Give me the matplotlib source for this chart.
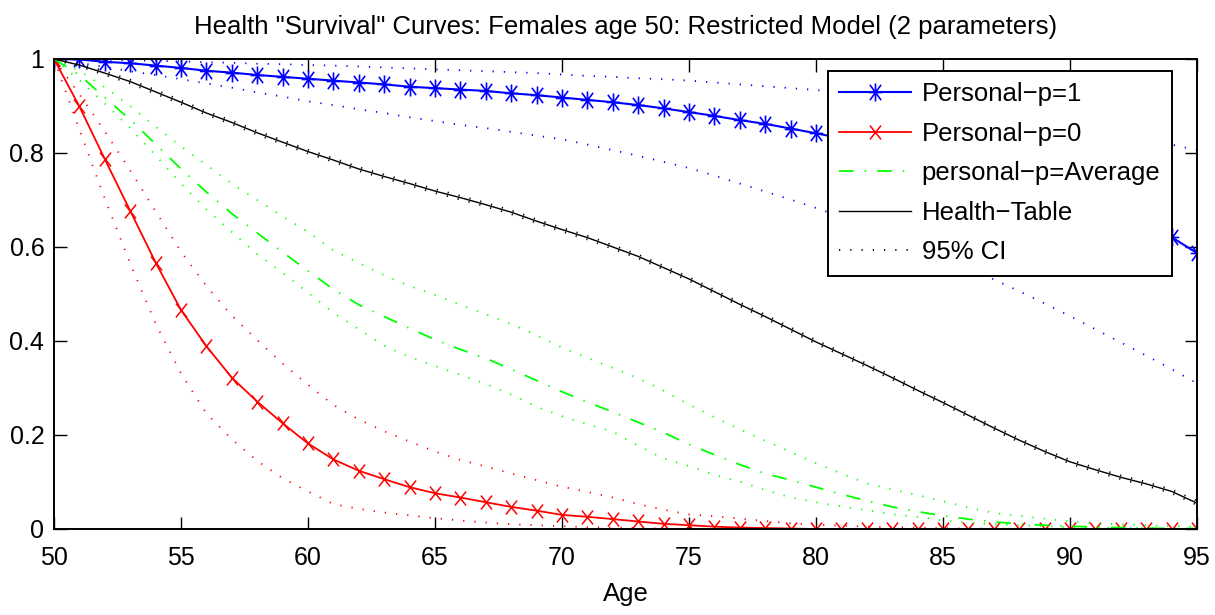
import matplotlib
matplotlib.use("Agg")
import matplotlib.pyplot as plt
from matplotlib.path import Path
from matplotlib.lines import Line2D

# ages 50..95
ages = list(range(50, 96))

p1 = [1.0, 0.999, 0.994, 0.991, 0.986, 0.981, 0.975, 0.971, 0.966, 0.962,
      0.958, 0.954, 0.950, 0.946, 0.941, 0.938, 0.935, 0.932, 0.927, 0.923,
      0.918, 0.913, 0.908, 0.902, 0.895, 0.887, 0.879, 0.870, 0.862, 0.852,
      0.842, 0.831, 0.819, 0.806, 0.793, 0.779, 0.764, 0.748, 0.731, 0.714,
      0.696, 0.678, 0.659, 0.640, 0.621, 0.587]
p1_hi = [1.0, 0.999, 0.998, 0.997, 0.996, 0.995, 0.993, 0.992, 0.990, 0.989,
         0.987, 0.986, 0.984, 0.982, 0.980, 0.978, 0.976, 0.974, 0.972, 0.970,
         0.967, 0.964, 0.962, 0.959, 0.957, 0.954, 0.950, 0.946, 0.942, 0.938,
         0.934, 0.928, 0.922, 0.916, 0.910, 0.903, 0.895, 0.887, 0.879, 0.870,
         0.861, 0.851, 0.841, 0.830, 0.818, 0.806]
p1_lo = [1.0, 0.992, 0.983, 0.974, 0.966, 0.957, 0.948, 0.939, 0.929, 0.920,
         0.910, 0.902, 0.893, 0.885, 0.876, 0.868, 0.860, 0.853, 0.845, 0.837,
         0.829, 0.818, 0.806, 0.794, 0.781, 0.768, 0.752, 0.735, 0.718, 0.701,
         0.683, 0.664, 0.643, 0.622, 0.600, 0.578, 0.555, 0.531, 0.506, 0.480,
         0.453, 0.425, 0.397, 0.369, 0.340, 0.310]

p0 = [1.0, 0.899, 0.787, 0.677, 0.567, 0.466, 0.389, 0.322, 0.271, 0.225,
      0.182, 0.148, 0.124, 0.106, 0.089, 0.076, 0.067, 0.057, 0.047, 0.039,
      0.030, 0.026, 0.021, 0.016, 0.011, 0.008, 0.005, 0.003, 0.002, 0.001,
      0.0, 0.0, 0.0, 0.0, 0.0, 0.0, 0.0, 0.0, 0.0, 0.0,
      0.0, 0.0, 0.0, 0.0, 0.0, 0.0]
p0_hi = [1.0, 0.925, 0.846, 0.763, 0.676, 0.590, 0.517, 0.454, 0.402, 0.352,
         0.307, 0.264, 0.233, 0.208, 0.186, 0.165, 0.147, 0.133, 0.118, 0.104,
         0.090, 0.079, 0.067, 0.053, 0.041, 0.031, 0.027, 0.022, 0.017, 0.012,
         0.009, 0.007, 0.005, 0.004, 0.003, 0.002, 0.001, 0.001, 0.0, 0.0,
         0.0, 0.0, 0.0, 0.0, 0.0, 0.0]
p0_lo = [1.0, 0.850, 0.703, 0.565, 0.437, 0.331, 0.246, 0.191, 0.145, 0.108,
         0.080, 0.053, 0.043, 0.035, 0.029, 0.023, 0.018, 0.014, 0.010, 0.008,
         0.006, 0.004, 0.003, 0.002, 0.001, 0.0, 0.0, 0.0, 0.0, 0.0,
         0.0, 0.0, 0.0, 0.0, 0.0, 0.0, 0.0, 0.0, 0.0, 0.0,
         0.0, 0.0, 0.0, 0.0, 0.0, 0.0]

pavg = [1.0, 0.966, 0.918, 0.871, 0.819, 0.766, 0.717, 0.671, 0.630, 0.589,
        0.549, 0.510, 0.477, 0.452, 0.427, 0.403, 0.382, 0.363, 0.340, 0.316,
        0.292, 0.270, 0.249, 0.227, 0.205, 0.180, 0.158, 0.137, 0.118, 0.104,
        0.089, 0.074, 0.060, 0.047, 0.037, 0.028, 0.021, 0.015, 0.011, 0.008,
        0.006, 0.004, 0.003, 0.002, 0.001, 0.001]
pavg_hi = [1.0, 0.975, 0.940, 0.900, 0.856, 0.814, 0.775, 0.735, 0.700, 0.665,
           0.632, 0.593, 0.566, 0.540, 0.517, 0.498, 0.477, 0.457, 0.436, 0.412,
           0.386, 0.364, 0.343, 0.321, 0.294, 0.265, 0.238, 0.212, 0.188, 0.164,
           0.140, 0.118, 0.097, 0.084, 0.072, 0.059, 0.046, 0.034, 0.028, 0.022,
           0.016, 0.012, 0.010, 0.008, 0.006, 0.005]
pavg_lo = [1.0, 0.955, 0.905, 0.853, 0.795, 0.735, 0.680, 0.632, 0.585, 0.545,
           0.503, 0.460, 0.425, 0.390, 0.366, 0.347, 0.328, 0.309, 0.286, 0.260,
           0.240, 0.223, 0.207, 0.177, 0.150, 0.134, 0.115, 0.101, 0.083, 0.067,
           0.057, 0.048, 0.040, 0.031, 0.026, 0.018, 0.013, 0.010, 0.008, 0.006,
           0.004, 0.003, 0.002, 0.002, 0.001, 0.001]

table = [1.0, 0.987, 0.970, 0.952, 0.930, 0.908, 0.885, 0.865, 0.843, 0.823,
         0.803, 0.785, 0.766, 0.750, 0.735, 0.719, 0.705, 0.690, 0.674, 0.655,
         0.637, 0.620, 0.600, 0.580, 0.556, 0.532, 0.505, 0.478, 0.452, 0.425,
         0.398, 0.373, 0.348, 0.322, 0.295, 0.269, 0.242, 0.215, 0.189, 0.165,
         0.143, 0.126, 0.110, 0.096, 0.080, 0.055]
table_hi = [1.0, 0.990, 0.974, 0.956, 0.934, 0.912, 0.889, 0.869, 0.847, 0.827,
            0.807, 0.789, 0.770, 0.754, 0.739, 0.723, 0.709, 0.694, 0.678, 0.659,
            0.641, 0.624, 0.604, 0.584, 0.560, 0.536, 0.509, 0.482, 0.456, 0.429,
            0.402, 0.377, 0.352, 0.326, 0.299, 0.273, 0.246, 0.219, 0.193, 0.169,
            0.147, 0.130, 0.114, 0.100, 0.084, 0.060]
table_lo = [1.0, 0.984, 0.966, 0.948, 0.926, 0.904, 0.881, 0.861, 0.839, 0.819,
            0.799, 0.781, 0.762, 0.746, 0.731, 0.715, 0.701, 0.686, 0.670, 0.651,
            0.633, 0.616, 0.596, 0.576, 0.552, 0.528, 0.501, 0.474, 0.448, 0.421,
            0.394, 0.369, 0.344, 0.318, 0.291, 0.265, 0.238, 0.211, 0.185, 0.161,
            0.139, 0.122, 0.106, 0.092, 0.076, 0.051]

labels = ["Personal\u2212p=1", "Personal\u2212p=0", "personal\u2212p=Average",
          "Health\u2212Table", "95% CI"]

plt.rcParams['font.family'] = ['Liberation Sans', 'DejaVu Sans']
plt.rcParams['lines.scale_dashes'] = False

# matlab style asterisk, a bit taller than wide
star = Path([(0, -1), (0, 1), (-0.62, -0.85), (0.62, 0.85),
             (-0.62, 0.85), (0.62, -0.85), (-0.75, 0), (0.75, 0)],
            [Path.MOVETO, Path.LINETO] * 4)
cross = Path([(-0.8, -1), (0.8, 1), (-0.8, 1), (0.8, -1)],
             [Path.MOVETO, Path.LINETO] * 2)

DOT = (0, (0.9, 7.2))
DASHDOT = (0, (10.5, 8, 1, 8))
FS = 18.5

fig = plt.figure(figsize=(12.15, 6.15), dpi=100)
ax = fig.add_axes([54 / 1215, 86 / 615, 1143 / 1215, 470 / 615])

ax.plot(ages, p1, color='blue', lw=1.5, marker=star, ms=13, mew=1.2)
ax.plot(ages, p0, color='red', lw=1.3, marker=cross, ms=10, mew=1.1)
ax.plot(ages, pavg, color=(0, 1, 0), lw=1.3, linestyle=DASHDOT)
ax.plot(ages, table, color='black', lw=1.0)

for lo, hi, c in [(p1_lo, p1_hi, 'blue'), (p0_lo, p0_hi, 'red'),
                  (pavg_lo, pavg_hi, (0, 1, 0)), (table_lo, table_hi, 'black')]:
    ax.plot(ages, hi, color=c, lw=1.3, linestyle=DOT)
    ax.plot(ages, lo, color=c, lw=1.3, linestyle=DOT)

ax.set_xlim(50, 95)
ax.set_ylim(0, 1)
ax.set_xticks(range(50, 96, 5))
ax.set_yticks([0, 0.2, 0.4, 0.6, 0.8, 1])
ax.set_yticklabels(["0", "0.2", "0.4", "0.6", "0.8", "1"])
ax.tick_params(direction='in', top=True, right=True, length=9, width=1,
               labelsize=18)
ax.tick_params(axis='x', pad=12)
ax.tick_params(axis='y', pad=7)
for s in ax.spines.values():
    s.set_linewidth(1.4)

ax.set_title('Health "Survival" Curves: Females age 50: Restricted Model (2 parameters)',
             fontsize=FS, pad=18)
ax.set_xlabel('Age', fontsize=FS, labelpad=9)

handles = [
    Line2D([], [], color='blue', lw=1.5, marker=star, ms=13, mew=1.2),
    Line2D([], [], color='red', lw=1.3, marker=cross, ms=10, mew=1.1),
    Line2D([], [], color=(0, 1, 0), lw=1.3, linestyle=DASHDOT),
    Line2D([], [], color='black', lw=1.0),
    Line2D([], [], color='black', lw=1.3, linestyle=DOT),
]
leg = ax.legend(handles, labels, loc='upper left', bbox_to_anchor=(0.677, 0.975),
                fontsize=FS, frameon=True, fancybox=False, framealpha=1,
                edgecolor='black', borderpad=0.45, labelspacing=0.6,
                handlelength=2.8, handletextpad=0.4, borderaxespad=0,
                numpoints=1)
leg.get_frame().set_linewidth(1.4)

fig.savefig('out.png', dpi=100)
